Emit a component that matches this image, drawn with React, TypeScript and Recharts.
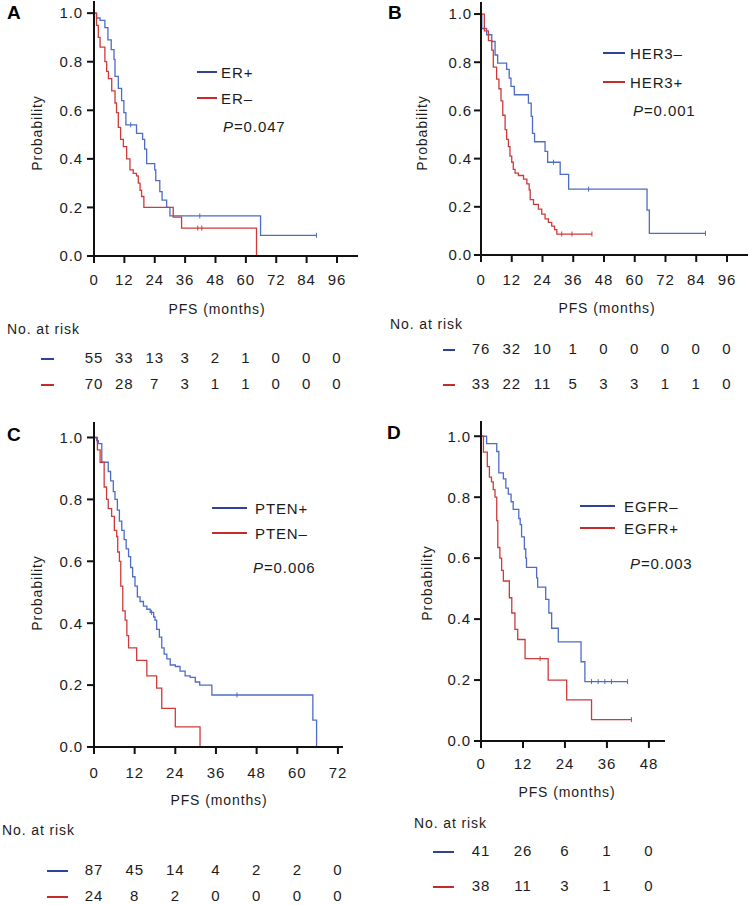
import React from 'react'
import { LineChart, Line, XAxis, YAxis } from 'recharts'

const BLUE = '#4d6cc6'
const RED = '#cf3a3a'
const BLUE_KEY = '#2d4399'
const RED_KEY = '#c42b2b'
const INK = '#1c1c1c'
const FONT = '"Liberation Sans", Arial, Helvetica, sans-serif'

const Y_TICKS = [0, 0.2, 0.4, 0.6, 0.8, 1.0]
const TICKS_96 = [0, 12, 24, 36, 48, 60, 72, 84, 96]
const TICKS_72 = [0, 12, 24, 36, 48, 60, 72]
const TICKS_48 = [0, 12, 24, 36, 48]

// A: ER status
const erPosT = [0, 1.0, 2.4, 4.3, 5.5, 6.8, 7.9, 8.3, 9.6, 10.9, 11.8, 12.6, 16.8, 19.2, 20.0, 20.8, 24.0, 24.4, 26.0, 26.9, 28.7, 30.0, 65.8, 87.9]
const erPosS = [1.0, 0.98, 0.97, 0.94, 0.89, 0.85, 0.81, 0.74, 0.69, 0.64, 0.59, 0.54, 0.505, 0.48, 0.44, 0.38, 0.355, 0.31, 0.265, 0.23, 0.2, 0.165, 0.085, 0.085]
const erPosCens = [14.5, 41.8, 87.9]
const erNegT = [0, 1.0, 1.7, 2.4, 4.3, 5.0, 5.7, 7.0, 8.3, 8.9, 9.6, 10.5, 11.6, 12.9, 14.2, 15.5, 16.8, 17.5, 18.2, 18.8, 19.7, 31.3, 34.6, 64.2]
const erNegS = [1.0, 0.95, 0.9, 0.86, 0.8, 0.76, 0.73, 0.68, 0.63, 0.59, 0.53, 0.48, 0.45, 0.4, 0.355, 0.34, 0.33, 0.3, 0.27, 0.245, 0.2, 0.16, 0.115, 0.0]
const erNegCens = [41.0, 42.6]
const riskErPos = [55, 33, 13, 3, 2, 1, 0, 0, 0]
const riskErNeg = [70, 28, 7, 3, 1, 1, 0, 0, 0]

// B: HER3 status
const her3NegT = [0, 0.3, 2.2, 4.2, 5.5, 6.5, 10.0, 11.0, 11.7, 13.0, 18.5, 19.6, 20.1, 20.9, 25.0, 26.0, 30.9, 34.2, 64.8, 65.7, 87.6]
const her3NegS = [1.0, 0.94, 0.914, 0.886, 0.83, 0.796, 0.77, 0.734, 0.7, 0.665, 0.63, 0.575, 0.505, 0.47, 0.43, 0.385, 0.335, 0.273, 0.186, 0.09, 0.09]
const her3NegCens = [28.3, 42.0, 87.6]
const her3PosT = [0, 1.3, 2.9, 4.2, 4.8, 6.1, 7.0, 7.8, 8.5, 9.4, 10.0, 10.7, 11.3, 12.0, 12.6, 13.3, 14.6, 16.6, 17.9, 18.8, 19.2, 20.5, 22.4, 23.7, 25.0, 26.3, 27.6, 28.7, 29.6, 43.3]
const her3PosS = [1.0, 0.93, 0.89, 0.85, 0.78, 0.73, 0.69, 0.64, 0.58, 0.52, 0.48, 0.45, 0.41, 0.385, 0.355, 0.34, 0.33, 0.315, 0.295, 0.27, 0.23, 0.21, 0.19, 0.17, 0.15, 0.135, 0.12, 0.105, 0.087, 0.087]
const her3PosCens = [31.5, 35.5, 43.3]
const riskHer3Neg = [76, 32, 10, 1, 0, 0, 0, 0, 0]
const riskHer3Pos = [33, 22, 11, 5, 3, 3, 1, 1, 0]

// C: PTEN status
const ptenPosT = [0, 0.8, 1.3, 2.3, 4.2, 4.9, 5.7, 6.2, 6.9, 7.5, 8.2, 8.9, 9.5, 10.2, 10.8, 11.4, 12.1, 12.8, 13.6, 14.6, 15.6, 16.6, 17.6, 18.0, 18.5, 19.3, 20.0, 20.7, 21.5, 22.5, 24.0, 25.4, 26.9, 28.4, 29.9, 31.2, 34.8, 64.6, 65.7]
const ptenPosS = [1.0, 0.99, 0.98, 0.92, 0.89, 0.86, 0.825, 0.8, 0.765, 0.73, 0.7, 0.67, 0.64, 0.615, 0.58, 0.55, 0.52, 0.485, 0.47, 0.455, 0.445, 0.435, 0.42, 0.41, 0.38, 0.355, 0.32, 0.3, 0.285, 0.265, 0.26, 0.245, 0.23, 0.225, 0.21, 0.2, 0.168, 0.087, 0.0]
const ptenPosCens = [17.0, 42.2]
const ptenNegT = [0, 1.0, 1.8, 3.0, 3.7, 4.2, 5.2, 6.0, 6.7, 7.0, 7.5, 7.9, 8.5, 9.2, 9.7, 10.2, 12.6, 15.6, 18.5, 20.0, 24.0, 31.3]
const ptenNegS = [1.0, 0.96, 0.92, 0.84, 0.8, 0.77, 0.745, 0.7, 0.68, 0.63, 0.6, 0.52, 0.44, 0.41, 0.36, 0.32, 0.28, 0.23, 0.19, 0.125, 0.065, 0.0]
const ptenNegCens: number[] = []
const riskPtenPos = [87, 45, 14, 4, 2, 2, 0]
const riskPtenNeg = [24, 8, 2, 0, 0, 0, 0]

// D: EGFR status
const egfrNegT = [0, 1.6, 4.5, 5.1, 6.4, 7.1, 7.8, 8.6, 9.2, 10.8, 11.2, 11.6, 12.4, 12.8, 13.0, 15.9, 16.2, 18.5, 19.4, 20.2, 22.1, 28.6, 29.7, 41.9]
const egfrNegS = [1.0, 0.976, 0.95, 0.88, 0.86, 0.83, 0.81, 0.785, 0.76, 0.73, 0.71, 0.67, 0.63, 0.6, 0.57, 0.535, 0.505, 0.465, 0.42, 0.37, 0.325, 0.26, 0.195, 0.195]
const egfrNegCens = [31.6, 33.5, 35.4, 37.3, 41.9]
const egfrPosT = [0, 0.7, 1.8, 2.4, 3.0, 3.5, 4.0, 4.5, 4.8, 5.4, 5.9, 6.4, 8.1, 8.8, 9.7, 10.5, 12.6, 19.2, 24.5, 31.6, 43.0]
const egfrPosS = [1.0, 0.948, 0.9, 0.866, 0.85, 0.825, 0.8, 0.723, 0.635, 0.6, 0.56, 0.525, 0.47, 0.42, 0.366, 0.333, 0.27, 0.2, 0.135, 0.07, 0.07]
const egfrPosCens = [16.9, 43.0]
const riskEgfrNeg = [41, 26, 6, 1, 0]
const riskEgfrPos = [38, 11, 3, 1, 0]

type Pt = { t: number; s: number; c: boolean }

function buildCurve(times: number[], surv: number[], cens: number[]): Pt[] {
  const pts: Pt[] = times.map((t, i) => ({ t, s: surv[i], c: false }))
  cens.forEach((t) => {
    let s = surv[0]
    times.forEach((tt, i) => {
      if (tt <= t) s = surv[i]
    })
    pts.push({ t, s, c: true })
  })
  return pts.sort((a, b) => a.t - b.t || Number(a.c) - Number(b.c))
}

const panels = [
  {
    id: 'A', left: 0, top: 0, width: 375, height: 400,
    plotLeft: 94, plotRight: 358, plotTop: 1, plotBottom: 256, xMax: 104.3, xTicks: TICKS_96,
    yTickMargin: 4, tickLabelY: 279, riskY: [357, 383],
    series: [
      { name: 'ER+', color: BLUE, keyColor: BLUE_KEY, data: buildCurve(erPosT, erPosS, erPosCens), risk: riskErPos },
      { name: 'ER–', color: RED, keyColor: RED_KEY, data: buildCurve(erNegT, erNegS, erNegCens), risk: riskErNeg },
    ],
    letterX: 7, letterY: 19, probX: 37, probY: 133,
    legendX1: 197, legendX2: 217, legendTextX: 221, legendY: [72, 98],
    pX: 223, pY: 126, pText: '0.047',
    pfsX: 217, pfsY: 309, noRiskX: 7, noRiskY: 329, dashX1: 41, dashX2: 54,
  },
  {
    id: 'B', left: 375, top: 0, width: 376, height: 400,
    plotLeft: 106, plotRight: 373, plotTop: 2, plotBottom: 255, xMax: 104.2, xTicks: TICKS_96,
    yTickMargin: 2, tickLabelY: 279, riskY: [348, 383],
    series: [
      { name: 'HER3–', color: BLUE, keyColor: BLUE_KEY, data: buildCurve(her3NegT, her3NegS, her3NegCens), risk: riskHer3Neg },
      { name: 'HER3+', color: RED, keyColor: RED_KEY, data: buildCurve(her3PosT, her3PosS, her3PosCens), risk: riskHer3Pos },
    ],
    letterX: 13, letterY: 19, probX: 47, probY: 133,
    legendX1: 228, legendX2: 250, legendTextX: 255, legendY: [53, 82],
    pX: 258, pY: 110, pText: '0.001',
    pfsX: 232, pfsY: 308, noRiskX: 15, noRiskY: 324, dashX1: 68, dashX2: 80,
  },
  {
    id: 'C', left: 0, top: 410, width: 375, height: 495,
    plotLeft: 94, plotRight: 343, plotTop: 12, plotBottom: 337, xMax: 73.5, xTicks: TICKS_72,
    yTickMargin: 4, tickLabelY: 362, riskY: [459, 485],
    series: [
      { name: 'PTEN+', color: BLUE, keyColor: BLUE_KEY, data: buildCurve(ptenPosT, ptenPosS, ptenPosCens), risk: riskPtenPos },
      { name: 'PTEN–', color: RED, keyColor: RED_KEY, data: buildCurve(ptenNegT, ptenNegS, ptenNegCens), risk: riskPtenNeg },
    ],
    letterX: 7, letterY: 31, probX: 37, probY: 183,
    legendX1: 212, legendX2: 247, legendTextX: 255, legendY: [98, 123],
    pX: 253, pY: 157, pText: '0.006',
    pfsX: 219, pfsY: 390, noRiskX: 2, noRiskY: 420, dashX1: 47, dashX2: 68,
  },
  {
    id: 'D', left: 375, top: 410, width: 376, height: 495,
    plotLeft: 106, plotRight: 290, plotTop: 11, plotBottom: 331, xMax: 52.6, xTicks: TICKS_48,
    yTickMargin: 3, tickLabelY: 353, riskY: [440, 475],
    series: [
      { name: 'EGFR–', color: BLUE, keyColor: BLUE_KEY, data: buildCurve(egfrNegT, egfrNegS, egfrNegCens), risk: riskEgfrNeg },
      { name: 'EGFR+', color: RED, keyColor: RED_KEY, data: buildCurve(egfrPosT, egfrPosS, egfrPosCens), risk: riskEgfrPos },
    ],
    letterX: 12, letterY: 29, probX: 52, probY: 173,
    legendX1: 205, legendX2: 240, legendTextX: 249, legendY: [96, 118],
    pX: 255, pY: 153, pText: '0.003',
    pfsX: 192, pfsY: 382, noRiskX: 39, noRiskY: 413, dashX1: 58, dashX2: 79,
  },
]

type PanelCfg = (typeof panels)[number]

const X_AXIS_H = 30

function censorDot(color: string) {
  return (props: any) => {
    const { cx, cy, payload, index } = props
    if (!payload || !payload.c || cx == null || cy == null) return <g key={`n-${index}`} />
    return <line key={`c-${index}`} x1={cx} x2={cx} y1={cy - 2.5} y2={cy + 2.5} stroke={color} strokeWidth={1} />
  }
}

function KMPanel({ cfg }: { cfg: PanelCfg }) {
  const bottom = cfg.height - cfg.plotBottom - X_AXIS_H
  const renderXTick = (props: any) => {
    const { x, payload } = props
    const i = cfg.xTicks.indexOf(payload.value)
    return (
      <g key={`xt-${payload.value}`}>
        <text x={x} y={cfg.tickLabelY + 5.5} textAnchor="middle" fontSize={15} fill={INK}>{payload.value}</text>
        {cfg.series.map((s, si) => (
          <text key={s.name} x={x} y={cfg.riskY[si] + 5.5} textAnchor="middle" fontSize={15} fill={INK}>
            {s.risk[i]}
          </text>
        ))}
      </g>
    )
  }

  return (
    <div style={{ position: 'absolute', left: cfg.left, top: cfg.top, width: cfg.width, height: cfg.height }}>
      <LineChart
        width={cfg.width}
        height={cfg.height}
        margin={{ top: cfg.plotTop, right: cfg.width - cfg.plotRight, bottom, left: 0 }}
      >
        <XAxis
          type="number"
          dataKey="t"
          domain={[0, cfg.xMax]}
          ticks={cfg.xTicks}
          interval={0}
          allowDataOverflow
          height={X_AXIS_H}
          tickSize={7}
          axisLine={{ stroke: '#111', strokeWidth: 2 }}
          tickLine={{ stroke: '#111', strokeWidth: 2 }}
          tick={renderXTick}
        />
        <YAxis
          type="number"
          domain={[0, 1.05]}
          ticks={Y_TICKS}
          interval={0}
          allowDataOverflow
          width={cfg.plotLeft}
          tickSize={7}
          tickMargin={cfg.yTickMargin}
          tickFormatter={(v: number) => v.toFixed(1)}
          axisLine={{ stroke: '#111', strokeWidth: 2 }}
          tickLine={{ stroke: '#111', strokeWidth: 2 }}
          tick={{ fontSize: 15, fill: INK }}
        />
        {cfg.series.map((s) => (
          <Line
            key={s.name}
            data={s.data}
            dataKey="s"
            type="stepAfter"
            stroke={s.color}
            strokeWidth={1.3}
            dot={censorDot(s.color)}
            activeDot={false}
            isAnimationActive={false}
          />
        ))}
      </LineChart>
      <svg
        width={cfg.width}
        height={cfg.height}
        style={{ position: 'absolute', left: 0, top: 0, pointerEvents: 'none', overflow: 'visible' }}
      >
        <text x={cfg.letterX} y={cfg.letterY} fontSize={19} fontWeight="bold" fill="#000" style={{ letterSpacing: 0 }}>
          {cfg.id}
        </text>
        <text
          x={0}
          y={5}
          textAnchor="middle"
          fontSize={14}
          fill={INK}
          transform={`translate(${cfg.probX},${cfg.probY}) rotate(-90)`}
        >
          Probability
        </text>
        {cfg.series.map((s, i) => (
          <g key={s.name}>
            <line x1={cfg.legendX1} x2={cfg.legendX2} y1={cfg.legendY[i]} y2={cfg.legendY[i]} stroke={s.keyColor} strokeWidth={2} />
            <text x={cfg.legendTextX} y={cfg.legendY[i] + 5.5} fontSize={15} fill={INK}>{s.name}</text>
            <line x1={cfg.dashX1} x2={cfg.dashX2} y1={cfg.riskY[i] + 2} y2={cfg.riskY[i] + 2} stroke={s.keyColor} strokeWidth={2} />
          </g>
        ))}
        <text x={cfg.pX} y={cfg.pY + 5.5} fontSize={15} fill={INK}>
          <tspan fontStyle="italic">P</tspan>={cfg.pText}
        </text>
        <text x={cfg.pfsX} y={cfg.pfsY + 5} textAnchor="middle" fontSize={14} fill={INK}>PFS (months)</text>
        <text x={cfg.noRiskX} y={cfg.noRiskY + 5} fontSize={14} fill={INK}>No. at risk</text>
      </svg>
    </div>
  )
}

export default function App() {
  return (
    <div
      style={{
        position: 'absolute',
        left: 0,
        top: 0,
        width: 751,
        height: 905,
        background: '#fff',
        fontFamily: FONT,
        letterSpacing: '0.9px',
      }}
    >
      {panels.map((p) => (
        <KMPanel key={p.id} cfg={p} />
      ))}
    </div>
  )
}
